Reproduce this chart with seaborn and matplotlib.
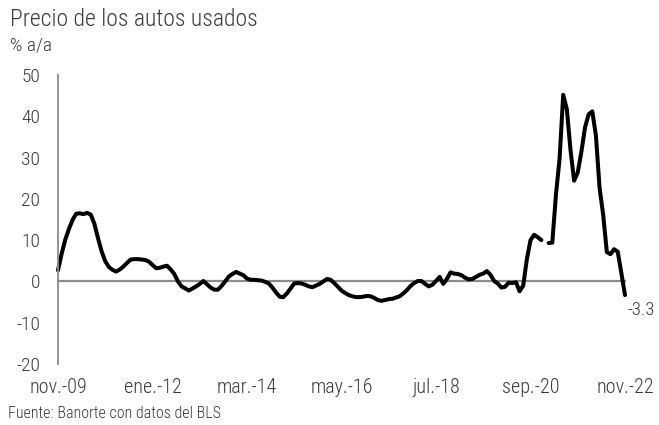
import numpy as np
import pandas as pd
import matplotlib
matplotlib.use("Agg")
import matplotlib.pyplot as plt
import seaborn as sns

# ---- data (monthly, nov-2009 .. nov-2022), % y/y ----
values = [
    2.7, 6.7, 10.1, 12.7, 14.9, 16.4, 16.5, 16.3, 16.6, 16.2,
    14.0, 10.5, 7.3, 4.9, 3.5, 2.8, 2.4, 2.9, 3.6, 4.5,
    5.3, 5.4, 5.4, 5.3, 5.2, 4.8, 4.0, 3.2, 3.3, 3.6,
    3.8, 2.9, 1.8, 0.0, -1.2, -1.7, -2.2, -1.7, -1.2, -0.6,
    0.1, -0.7, -1.5, -2.0, -2.0, -1.1, 0.0, 1.2, 1.8, 2.3,
    1.9, 1.5, 0.7, 0.4, 0.4, 0.3, 0.2, -0.1, -0.5, -1.5,
    -2.7, -3.7, -3.8, -2.9, -1.7, -0.5, -0.4, -0.5, -0.8, -1.2,
    -1.4, -1.0, -0.6, 0.0, 0.6, 0.4, -0.4, -1.3, -2.2, -2.8,
    -3.3, -3.6, -3.8, -3.8, -3.7, -3.5, -3.6, -4.0, -4.5, -4.7,
    -4.5, -4.3, -4.2, -3.9, -3.6, -2.9, -2.1, -1.1, -0.4, 0.1,
    0.1, -0.6, -1.2, -0.8, 0.1, 1.1, -0.6, 0.6, 2.2, 1.9,
    1.8, 1.5, 0.9, 0.5, 0.6, 1.1, 1.6, 1.9, 2.5, 1.6,
    0.1, -0.5, -1.5, -1.3, -0.3, -0.4, -0.2, -2.4, -1.0, 5.4,
    10.0, 11.3, 10.7, 10.0, np.nan, 9.3, 9.4, 21.0, 29.7, 45.2,
    41.7, 31.9, 24.4, 26.4, 31.4, 37.3, 40.5, 41.2, 35.3, 22.7,
    16.1, 7.1, 6.6, 7.8, 7.2, 2.0, -3.3,
]
tick_months = [0, 26, 52, 78, 104, 130, 156]
tick_labels = ["nov.-09", "ene.-12", "mar.-14", "may.-16", "jul.-18", "sep.-20", "nov.-22"]
y_ticks = [-20, -10, 0, 10, 20, 30, 40, 50]
title = "Precio de los autos usados"
unit = "% a/a"
source = "Fuente: Banorte con datos del BLS"
last_label = "-3.3"

df = pd.DataFrame({"mes": np.arange(len(values)), "valor": values})
# split into contiguous segments (gap where data missing)
df["seg"] = df["valor"].isna().cumsum()
df = df.dropna()

sns.set_style("white")
FAM = ["Liberation Sans Narrow", "Roboto Condensed", "Roboto", "DejaVu Sans"]
plt.rcParams["font.family"] = FAM
plt.rcParams["font.weight"] = "light"
TXT = "#3a3a3a"
GRAY = "#8c8c8c"

fig = plt.figure(figsize=(6.59, 4.25), dpi=100)
ax = fig.add_axes([58 / 659, 1 - 364 / 425, (625 - 58) / 659, (364 - 75) / 425])

for seg, sub in df.groupby("seg"):
    sns.lineplot(data=sub, x="mes", y="valor", ax=ax, color="black", linewidth=2.9,
                 solid_joinstyle="round", solid_capstyle="round", clip_on=False, legend=False)

ax.set_xlim(0, 156)
ax.set_ylim(-20, 50)
ax.set_yticks(y_ticks)
ax.set_yticklabels([str(v) for v in y_ticks])
ax.set_xticks(tick_months)
ax.set_xticklabels(tick_labels)
ax.set_xlabel("")
ax.set_ylabel("")

for s in ["top", "right"]:
    ax.spines[s].set_visible(False)
ax.spines["left"].set_color(GRAY)
ax.spines["left"].set_linewidth(1.3)
ax.spines["bottom"].set_position(("data", 0))
ax.spines["bottom"].set_color(GRAY)
ax.spines["bottom"].set_linewidth(1.6)
ax.spines["bottom"].set_zorder(0)

ax.tick_params(axis="y", direction="out", length=4, width=1.2, color=GRAY,
               labelsize=14, labelcolor=TXT, pad=9)
ax.tick_params(axis="x", direction="out", length=3.5, width=1.2, color=GRAY,
               labelsize=14.5, labelcolor=TXT, pad=66)

ax.annotate(last_label, xy=(df["mes"].iloc[-1], df["valor"].iloc[-1]), xytext=(2, -4),
            textcoords="offset points", ha="left", va="top", fontsize=13.5, color=TXT,
            annotation_clip=False)

fig.text(10 / 659, 1 - 20 / 425, title, ha="left", va="center", fontsize=17, color=TXT)
fig.text(10 / 659, 1 - 45 / 425, unit, ha="left", va="center", fontsize=14, color=TXT)
fig.text(8 / 659, 1 - 413 / 425, source, ha="left", va="center", fontsize=11.5, color=TXT)

fig.savefig("out.png", dpi=100)
